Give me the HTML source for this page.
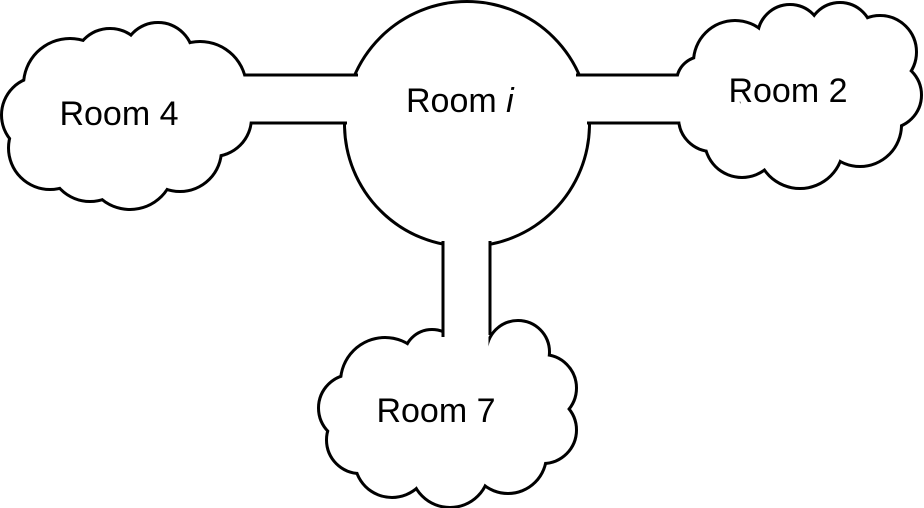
<!DOCTYPE html>
<html><head><meta charset="utf-8"><style>
html,body{margin:0;padding:0;background:#fff;}
svg{display:block;}
text{font-family:"Liberation Sans",sans-serif;font-size:34px;fill:#000;}
</style></head><body>
<svg width="924" height="508" viewBox="0 0 924 508" xmlns="http://www.w3.org/2000/svg">
<defs>
<g id="c4">
<circle cx="70" cy="85" r="45"/><circle cx="110" cy="65" r="35"/><circle cx="158" cy="58" r="34"/>
<circle cx="200" cy="88" r="45"/><circle cx="40" cy="115" r="37"/><circle cx="50" cy="148" r="40"/>
<circle cx="90" cy="160" r="40"/><circle cx="130" cy="165" r="43"/><circle cx="180" cy="150" r="40"/>
<circle cx="213" cy="118" r="37"/>
</g>
<g id="c2">
<circle cx="735" cy="62" r="40"/><circle cx="790" cy="37" r="31"/><circle cx="840" cy="35" r="31"/>
<circle cx="880" cy="52" r="35"/><circle cx="888" cy="95" r="32"/><circle cx="860" cy="125" r="40"/>
<circle cx="800" cy="145" r="42"/><circle cx="742" cy="140" r="36"/><circle cx="712" cy="118" r="32"/>
<circle cx="702" cy="82" r="24"/>
</g>
<g id="c7">
<circle cx="385" cy="382" r="43"/><circle cx="432" cy="358" r="27"/><circle cx="518" cy="352" r="30"/>
<circle cx="543" cy="388" r="32"/><circle cx="543" cy="430" r="32"/><circle cx="508" cy="455" r="37"/>
<circle cx="450" cy="468" r="38"/><circle cx="392" cy="460" r="36"/><circle cx="360" cy="440" r="32"/>
<circle cx="352" cy="408" r="32"/>
</g>
</defs>
<g fill="none" stroke="#000" stroke-width="6">
<use href="#c4"/><use href="#c2"/><use href="#c7"/>
<circle cx="467" cy="124" r="121"/>
</g>
<g fill="#fff">
<use href="#c4"/><use href="#c2"/><use href="#c7"/>
<circle cx="467" cy="124" r="121"/>
<circle cx="130" cy="115" r="60"/>
<circle cx="800" cy="95" r="60"/><circle cx="845" cy="85" r="45"/>
<circle cx="450" cy="412" r="60"/><circle cx="470" cy="380" r="35"/><circle cx="505" cy="405" r="40"/>
</g>
<rect x="215" y="76.5" width="160" height="45" fill="#fff"/>
<rect x="560" y="76.5" width="140" height="45" fill="#fff"/>
<rect x="444.5" y="200" width="44" height="160" fill="#fff"/>
<g stroke="#000" stroke-width="3" fill="none">
<line x1="245" y1="75" x2="358" y2="75"/>
<line x1="250" y1="123" x2="347" y2="123"/>
<line x1="576" y1="75" x2="678" y2="75"/>
<line x1="587" y1="123" x2="680" y2="123"/>
<line x1="443" y1="241" x2="443" y2="337"/>
<line x1="490" y1="241" x2="490" y2="335"/>
</g>
<text x="119" y="125" text-anchor="middle">Room 4</text>
<text x="406" y="112">Room <tspan font-style="italic">i</tspan></text>
<text x="788" y="102" text-anchor="middle">Room 2</text>
<text x="436" y="422" text-anchor="middle">Room 7</text>
</svg>
</body></html>
